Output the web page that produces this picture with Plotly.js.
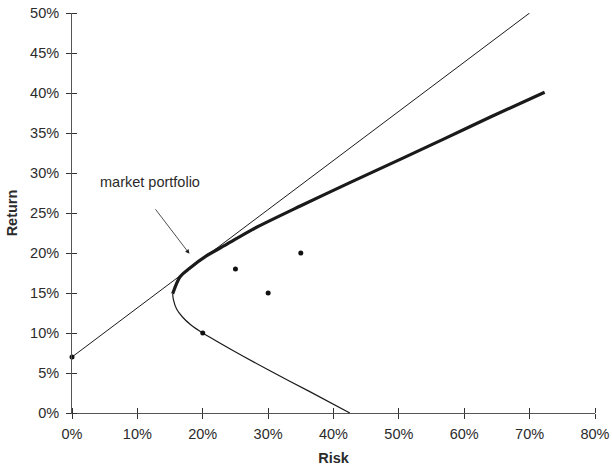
<!DOCTYPE html>
<html><head><meta charset="utf-8">
<script src="https://cdn.plot.ly/plotly-3.0.1.min.js"></script>
<style>body{margin:0;background:#fff}#chart{width:612px;height:466px}</style>
</head><body><div id="chart"></div>
<script>
// Capital market line
const cmlRisk = [0, 70];
const cmlReturn = [7, 50];
// Efficient (upper) frontier
const efficientRisk = [15.4, 16.5, 18.0, 20.5, 23.7, 27.5, 35.0, 42.5, 50.2, 57.0, 64.0, 72.3];
const efficientReturn = [14.9, 17.0, 18.1, 19.6, 21.1, 22.9, 25.9, 28.8, 31.7, 34.3, 37.0, 40.1];
// Lower (inefficient) frontier
const lowerRisk = [15.4, 15.5, 16.0, 16.9, 18.2, 20.0, 24.0, 30.0, 36.3, 42.5];
const lowerReturn = [14.9, 14.2, 13.0, 12.0, 11.0, 10.0, 8.1, 5.4, 2.7, 0];
// Assets
const assetRisk = [0, 20, 25, 30, 35];
const assetReturn = [7, 10, 18, 15, 20];
// Tick labels
const xTicks = [0, 10, 20, 30, 40, 50, 60, 70, 80];
const yTicks = [0, 5, 10, 15, 20, 25, 30, 35, 40, 45, 50];

const FONT = 'Liberation Sans, Arial, Helvetica, sans-serif';
const TXT = '#2b2b2b';

const traces = [
  {x: cmlRisk, y: cmlReturn, mode: 'lines', line: {color: '#1a1a1a', width: 1}, hoverinfo: 'skip', showlegend: false},
  {x: lowerRisk, y: lowerReturn, mode: 'lines', line: {color: '#1a1a1a', width: 1.2, shape: 'spline', smoothing: 0.8}, hoverinfo: 'skip', showlegend: false},
  {x: efficientRisk, y: efficientReturn, mode: 'lines', line: {color: '#1a1a1a', width: 3.2, shape: 'spline', smoothing: 0.8}, hoverinfo: 'skip', showlegend: false},
  {x: assetRisk, y: assetReturn, mode: 'markers', marker: {color: '#111', size: 5}, cliponaxis: false, hoverinfo: 'skip', showlegend: false}
];

const axisCommon = {showgrid: false, zeroline: false, fixedrange: true};
// inner half of the crossing tick marks, as minor ticks at the same places
const innerTicks = vals => ({tickmode: 'array', tickvals: vals.map(v => v + 1e-4), ticks: 'inside', ticklen: 5, tickcolor: '#333', tickwidth: 1, showgrid: false});

const layout = {
  width: 612, height: 466,
  margin: {l: 72, r: 17, t: 13, b: 53},
  paper_bgcolor: '#fff', plot_bgcolor: '#fff',
  font: {family: FONT, size: 14.5, color: TXT},
  showlegend: false,
  xaxis: Object.assign({}, axisCommon, {
    range: [0, 80], tickvals: xTicks, ticktext: xTicks.map(v => v + '%'),
    showline: true, linecolor: '#555', linewidth: 1,
    ticks: 'outside', ticklen: 5, tickcolor: '#333', tickwidth: 1, ticklabelstandoff: 3,
    minor: innerTicks(xTicks),
    title: {text: '<b>Risk</b>', font: {size: 14.5, color: TXT}, standoff: 12}
  }),
  yaxis: Object.assign({}, axisCommon, {
    range: [0, 50], tickvals: yTicks, ticktext: yTicks.map(v => v + '%'),
    showline: true, linecolor: '#555', linewidth: 1,
    ticks: 'outside', ticklen: 5, tickcolor: '#333', tickwidth: 1, ticklabelstandoff: 4,
    minor: innerTicks(yTicks),
    title: {text: '<b>Return</b>', font: {size: 14.5, color: TXT}, standoff: 8}
  }),
  annotations: [
    {x: 17.97, y: 19.9, ax: 12.6, ay: 25.65, xref: 'x', yref: 'y', axref: 'x', ayref: 'y',
     text: '', showarrow: true, arrowhead: 2, arrowsize: 1.1, arrowwidth: 0.8, arrowcolor: '#222'},
    {x: 12.0, y: 28.86, xref: 'x', yref: 'y', text: 'market portfolio', showarrow: false,
     font: {family: FONT, size: 14.5, color: TXT}}
  ]
};

Plotly.newPlot('chart', traces, layout, {staticPlot: true, displayModeBar: false});
</script>
</body></html>
